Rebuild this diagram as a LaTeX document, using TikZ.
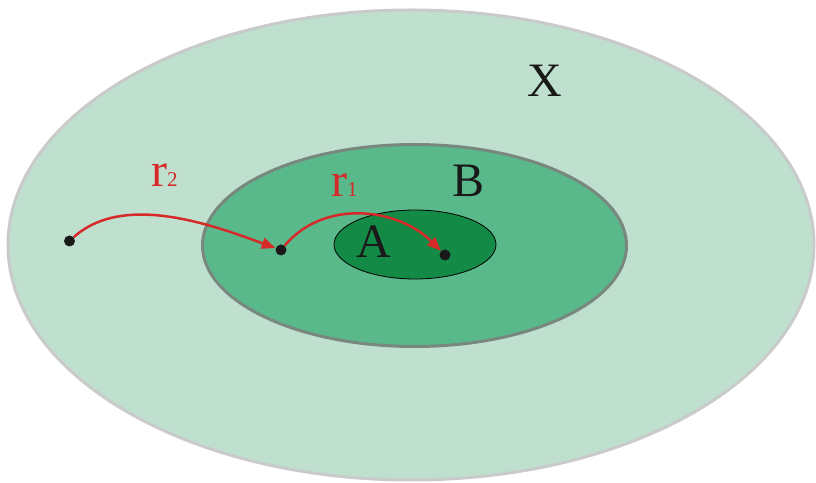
\documentclass[tikz,border=0pt]{standalone}
\usepackage{fontspec}
\setmainfont{Liberation Serif}
\usetikzlibrary{arrows.meta}
\definecolor{setX}{RGB}{191,224,207}
\definecolor{rimX}{RGB}{200,203,201}
\definecolor{setB}{RGB}{90,185,138}
\definecolor{rimB}{RGB}{120,136,126}
\definecolor{setA}{RGB}{19,138,69}
\definecolor{arrred}{RGB}{214,42,42}
\newcommand{\subsz}{\fontsize{21}{22}\selectfont}

\begin{document}
\begin{tikzpicture}[
  x=1pt, y=1pt,
  spot/.style={circle, fill=black!90, inner sep=0pt, minimum size=11pt},
  arr/.style={draw=arrred, line width=2.5pt, -{Triangle[length=14pt,width=11pt]}},
  big/.style={font=\fontsize{48}{50}\selectfont, inner sep=0pt, anchor=base}
]
\useasboundingbox (0,0) rectangle (816,482);

% the three sets
\filldraw[fill=setX, draw=rimX, line width=3pt] (411,237) ellipse [x radius=403pt, y radius=235pt];
\filldraw[fill=setB, draw=rimB, line width=3pt] (414.5,236.5) ellipse [x radius=212pt, y radius=101pt];
\filldraw[fill=setA, draw=black, line width=0.8pt] (415,237.5) ellipse [x radius=81pt, y radius=34.5pt];

% labels
\node[big, text=black!90] (lX) at (545,385) {X};
\node[big, text=black!90] (lB) at (469,285) {B};
\node[big, text=black!90] (lA) at (373.5,224) {A};
\node[big, text=arrred, anchor=base west] (r2) at (151,295) {r{\subsz 2}};
\node[big, text=arrred, anchor=base west] (r1) at (331,285) {r{\subsz 1}};

% points
\node[spot] (p1) at (69.5,241) {};
\node[spot] (p2) at (281,232) {};
\node[spot] (p3) at (445,227) {};

% maps
\draw[arr] (p1) to[out=42, in=160, looseness=0.85] (p2);
\draw[arr] (p2) to[out=50, in=135] (p3);
\end{tikzpicture}
\end{document}
